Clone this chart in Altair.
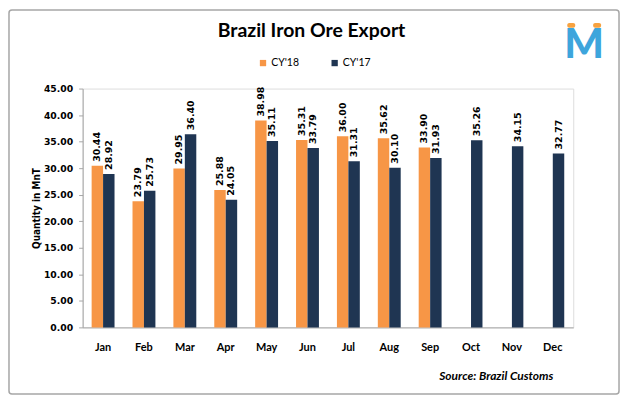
import altair as alt
import pandas as pd

months = ["Jan", "Feb", "Mar", "Apr", "May", "Jun", "Jul", "Aug", "Sep", "Oct", "Nov", "Dec"]
series = ["CY'18", "CY'17"]
cy18 = [30.44, 23.79, 29.95, 25.88, 38.98, 35.31, 36.00, 35.62, 33.90]
cy17 = [28.92, 25.73, 36.40, 24.05, 35.11, 33.79, 31.31, 30.10, 31.93, 35.26, 34.15, 32.77]
colors = ["#F79646", "#1F3552"]
y_ticks = [0, 5, 10, 15, 20, 25, 30, 35, 40, 45]

rows = []
for m, v in zip(months, cy18):
    rows.append({"Month": m, "Series": "CY'18", "Value": v})
for m, v in zip(months, cy17):
    rows.append({"Month": m, "Series": "CY'17", "Value": v})
df = pd.DataFrame(rows)

W, H = 493, 240

x_enc = alt.X("Month:N", sort=months,
              scale=alt.Scale(paddingInner=0.44, paddingOuter=0.22),
              axis=alt.Axis(title=None, labelAngle=0, ticks=False, domainColor="#A6A6A6",
                            labelFont="Lato", labelFontWeight="bold", labelFontSize=11,
                            labelColor="#000000", labelPadding=14))
xo_enc = alt.XOffset("Series:N", sort=series, scale=alt.Scale(domain=series, paddingInner=0))
y_enc = alt.Y("Value:Q", scale=alt.Scale(domain=[0, 45], nice=False),
              axis=alt.Axis(title="Quantity in MnT", values=y_ticks, tickCount=10, format=".2f",
                            grid=False, labelOverlap=False,
                            domainColor="#A6A6A6", tickColor="#A6A6A6", tickSize=4,
                            labelFont="DejaVu Sans", labelFontWeight="bold", labelFontSize=9.3,
                            labelColor="#000000", labelPadding=6,
                            titleFont="DejaVu Sans Condensed", titleFontWeight="bold", titleFontSize=10,
                            titleColor="#000000", titlePadding=2))

base = alt.Chart(df)

bars = base.mark_bar().encode(
    x=x_enc,
    xOffset=xo_enc,
    y=y_enc,
    color=alt.Color("Series:N", sort=series,
                    scale=alt.Scale(domain=series, range=colors),
                    legend=alt.Legend(title=None, orient="none", legendX=176, legendY=-31,
                                      direction="horizontal", columns=2, columnPadding=30,
                                      symbolType="square", symbolSize=40, symbolStrokeWidth=0,
                                      labelFont="Lato", labelFontSize=10.5, labelColor="#000000",
                                      labelOffset=3)),
)

labels = base.mark_text(angle=270, align="left", baseline="middle", dx=4,
                        font="DejaVu Sans", fontWeight="bold", fontSize=9.5,
                        color="#000000").encode(
    x=x_enc,
    xOffset=xo_enc,
    y=y_enc,
    text=alt.Text("Value:Q", format=".2f"),
)

deco = alt.Chart(pd.DataFrame({"k": [0]}))

border = deco.mark_rect(fillOpacity=0, stroke="#A6A6A6", strokeWidth=1.5, cornerRadius=3).encode(
    x=alt.value(-74), x2=alt.value(539), y=alt.value(-79), y2=alt.value(307))

title = deco.mark_text(font="Lato", fontWeight="bold", fontSize=19.5, color="#000000",
                       align="center", baseline="middle").encode(
    x=alt.value(230), y=alt.value(-58), text=alt.value("Brazil Iron Ore Export"))

source = deco.mark_text(font="Lato", fontWeight="bold", fontStyle="italic", fontSize=12,
                        color="#000000", align="right", baseline="middle").encode(
    x=alt.value(473), y=alt.value(289), text=alt.value("Source: Brazil Customs"))

logo_m = deco.mark_text(font="Lato", fontWeight=900, fontSize=42, color="#3DA5DC",
                        align="center", baseline="alphabetic").encode(
    x=alt.value(504), y=alt.value(-31), text=alt.value("M"))
dot1 = deco.mark_rect(color="#F7A240", cornerRadius=2).encode(
    x=alt.value(487), x2=alt.value(495), y=alt.value(-66), y2=alt.value(-61))
dot2 = deco.mark_rect(color="#F7A240", cornerRadius=2).encode(
    x=alt.value(513), x2=alt.value(521), y=alt.value(-66), y2=alt.value(-61))

chart = alt.layer(border, bars, labels, title, source, logo_m, dot1, dot2).properties(
    width=W, height=H,
    autosize=alt.AutoSizeParams(type="none"),
    padding={"left": 75, "top": 80, "right": 48, "bottom": 70},
).configure_view(stroke=None).configure(background="#FFFFFF")

chart.save("out.html", embed_options={"renderer": "svg", "actions": False})
